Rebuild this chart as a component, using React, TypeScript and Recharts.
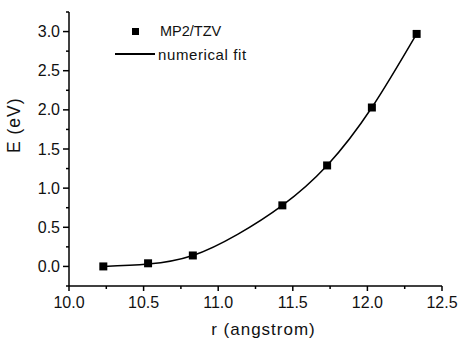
import React from 'react';
import { ComposedChart, Line, Scatter, XAxis, YAxis } from 'recharts';

const radii = [10.23, 10.53, 10.83, 11.43, 11.73, 12.03, 12.33];
const energies = [0.0, 0.04, 0.14, 0.78, 1.29, 2.03, 2.97];

const fitRadii = [10.23, 10.53, 10.83, 11.13, 11.43, 11.73, 12.03, 12.33];
const fitEnergies = [0.0, 0.03, 0.14, 0.41, 0.78, 1.29, 2.03, 2.97];

const xTicks = [10, 10.25, 10.5, 10.75, 11, 11.25, 11.5, 11.75, 12, 12.25, 12.5];
const yTicks = [-0.25, 0, 0.25, 0.5, 0.75, 1, 1.25, 1.5, 1.75, 2, 2.25, 2.5, 2.75, 3, 3.25];

const points = radii.map((r, i) => ({ r, E: energies[i] }));
const fit = fitRadii.map((r, i) => ({ r, E: fitEnergies[i] }));

const FONT = '"Liberation Sans", Arial, sans-serif';

const isMajor = (v: number) => Math.abs(v * 2 - Math.round(v * 2)) < 1e-6;

const XTick = (props: any) => {
  const { x, y, payload } = props;
  const major = isMajor(payload.value);
  return (
    <g>
      <line x1={x} x2={x} y1={y} y2={y + (major ? 5 : 3)} stroke="#000" strokeWidth={1.5} />
      {major && (
        <text x={x} y={y + 22} textAnchor="middle" fontSize={16} fontFamily={FONT} fill="#111">
          {payload.value.toFixed(1)}
        </text>
      )}
    </g>
  );
};

const YTick = (props: any) => {
  const { x, y, payload } = props;
  const major = isMajor(payload.value);
  return (
    <g>
      <line x1={x} x2={x - (major ? 6 : 3)} y1={y} y2={y} stroke="#000" strokeWidth={1.5} />
      {major && (
        <text x={x - 9} y={y + 5.5} textAnchor="end" fontSize={16} fontFamily={FONT} fill="#111">
          {payload.value.toFixed(1)}
        </text>
      )}
    </g>
  );
};

// legend drawn over the plot, as in the original figure
const LegendBox = () => (
  <div style={{ position: 'absolute', left: 115, top: 0, fontFamily: FONT, color: '#111' }}>
    <div style={{ position: 'absolute', top: 20, left: 0, height: 22, display: 'flex', alignItems: 'center', whiteSpace: 'nowrap' }}>
      <span style={{ width: 40, display: 'inline-flex', justifyContent: 'center' }}>
        <span style={{ width: 7, height: 7, background: '#000', display: 'inline-block' }} />
      </span>
      <span style={{ marginLeft: 5, fontSize: 14.5 }}>MP2/TZV</span>
    </div>
    <div style={{ position: 'absolute', top: 43, left: 0, height: 22, display: 'flex', alignItems: 'center', whiteSpace: 'nowrap' }}>
      <span style={{ width: 40, height: 1.5, background: '#000', display: 'inline-block' }} />
      <span style={{ marginLeft: 3, fontSize: 15, letterSpacing: 0.6 }}>numerical fit</span>
    </div>
  </div>
);

export default function App() {
  return (
    <div style={{ position: 'absolute', left: 0, top: 0, width: 460, height: 339, background: '#fff' }}>
      <ComposedChart width={460} height={339} margin={{ top: 12, right: 18, bottom: 0, left: 0 }}>
        <XAxis
          type="number"
          dataKey="r"
          domain={[10, 12.5]}
          ticks={xTicks}
          interval={0}
          allowDataOverflow
          height={53}
          tickSize={0}
          tickMargin={0}
          tickLine={false}
          tick={<XTick />}
          axisLine={{ stroke: '#000', strokeWidth: 1.5 }}
          label={{ value: 'r (angstrom)', position: 'insideBottom', offset: 4, dx: 8, fontSize: 17, letterSpacing: 1, fontFamily: FONT, fill: '#111' }}
        />
        <YAxis
          type="number"
          dataKey="E"
          domain={[-0.25, 3.25]}
          ticks={yTicks}
          interval={0}
          allowDataOverflow
          width={69}
          tickSize={0}
          tickMargin={0}
          tickLine={false}
          tick={<YTick />}
          axisLine={{ stroke: '#000', strokeWidth: 1.5 }}
          label={{ value: 'E (eV)', angle: -90, position: 'insideLeft', offset: 14, dy: 4, fontSize: 17.5, letterSpacing: 1, fontFamily: FONT, fill: '#111' }}
        />
        <Line
          data={fit}
          dataKey="E"
          type="natural"
          stroke="#000"
          strokeWidth={1.5}
          dot={false}
          activeDot={false}
          isAnimationActive={false}
          name="numerical fit"
        />
        <Scatter
          data={points}
          dataKey="E"
          shape="square"
          fill="#000"
          isAnimationActive={false}
          name="MP2/TZV"
        />
      </ComposedChart>
      <LegendBox />
    </div>
  );
}
